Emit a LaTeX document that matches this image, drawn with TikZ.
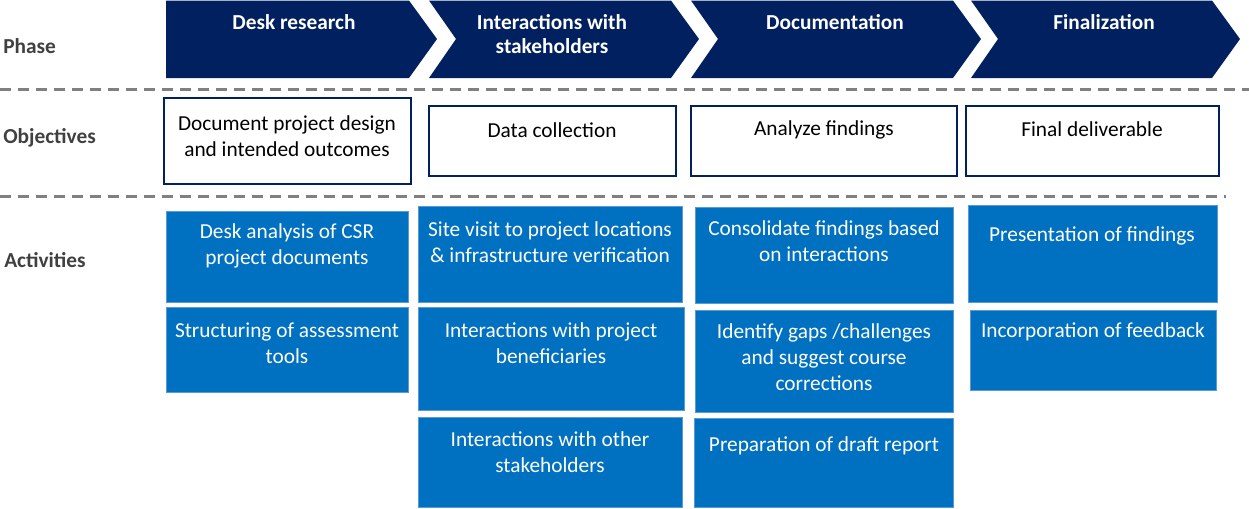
\documentclass[tikz,border=0pt]{standalone}
\usepackage{fontspec}
\setmainfont{Carlito}

\definecolor{navy}{HTML}{002060}
\definecolor{actblue}{HTML}{0070C0}
\definecolor{edgeblue}{HTML}{5B9BD5}
\definecolor{labelgray}{HTML}{404040}
\definecolor{sepgray}{HTML}{808080}

\begin{document}
\begin{tikzpicture}[x=0.75pt, y=-0.75pt,
    every node/.style={inner sep=0pt, font=\fontsize{16}{19.5}\selectfont},
    phasetext/.style={text=white, align=center, font=\fontsize{16}{18}\selectfont\bfseries},
    rowlabel/.style={anchor=west, text=labelgray, font=\fontsize{16}{19.5}\selectfont\bfseries},
    objbox/.style={draw=navy, line width=1.5pt},
    objtext/.style={align=center},
    actbox/.style={fill=actblue, draw=edgeblue, line width=0.4pt},
    acttext/.style={text=white, align=center},
    sepline/.style={draw=sepgray, line width=2.25pt, dash pattern=on 8pt off 5.5pt}]
    \useasboundingbox (0,0) rectangle (1249,508);

    % Phase chevrons
    \foreach \l/\r/\d in {166/409/0, 429/671/27, 691/953/27, 971/1212/27}
        \fill[navy] (\l,0.5) -- (\r,0.5) -- (\r+28,39) -- (\r,78) -- (\l,78) -- (\l+\d,39) -- cycle;

    % Separators
    \draw[sepline] (0,89) -- (1249,89);
    \draw[sepline] (0,196) -- (1226,196);

    % Row labels
    \node[rowlabel] (phase) at (3,46) {Phase};
    \node[rowlabel] (objectives) at (3,138) {Objectives};
    \node[rowlabel] (activities) at (4,260) {Activities};

    % Phase names
    \node[phasetext] (desk) at (294,22) {Desk research};
    \node[phasetext] (inter) at (552,34) {Interactions with\\stakeholders};
    \node[phasetext] (doc) at (835,22) {Documentation};
    \node[phasetext] (final) at (1104,22) {Finalization};

    % Objectives
    \draw[objbox] (164,98) rectangle (411,184);
    \draw[objbox] (429,106) rectangle (676,176);
    \draw[objbox] (691,106) rectangle (957,176);
    \draw[objbox] (966,106) rectangle (1219,176);
    \node[objtext] (obj1) at (287,136) {Document project design\\and intended outcomes};
    \node[objtext] (obj2) at (552,130) {Data collection};
    \node[objtext] (obj3) at (824,130) {Analyze findings};
    \node[objtext] (obj4) at (1092,129) {Final deliverable};

    % Activity boxes
    \foreach \xa/\ya/\xb/\yb in {166/211/408/302, 166/307/408/392,
            418/206/682/302, 418/307/684/410, 418/417/682/507,
            695/207/953/303, 695/310/953/412, 694/418/953/507,
            968/205/1217/302, 970/310/1216/390}
        \filldraw[actbox] (\xa,\ya) rectangle (\xb,\yb);

    % Activities
    \node[acttext] (desk1) at (287,246) {Desk analysis of CSR\\project documents};
    \node[acttext] (desk2) at (287,343) {Structuring of assessment\\tools};
    \node[acttext] (inter1) at (550,242) {Site visit to project locations\\\& infrastructure verification};
    \node[acttext] (inter2) at (551,343) {Interactions with project\\beneficiaries};
    \node[acttext] (inter3) at (550,452) {Interactions with other\\stakeholders};
    \node[acttext] (doc1) at (824,241) {Consolidate findings based\\on interactions};
    \node[acttext] (doc2) at (824,357) {Identify gaps /challenges\\and suggest course\\corrections};
    \node[acttext] (doc3) at (824,446) {Preparation of draft report};
    \node[acttext] (final1) at (1092,236) {Presentation of findings};
    \node[acttext] (final2) at (1093,332) {Incorporation of feedback};
\end{tikzpicture}
\end{document}
